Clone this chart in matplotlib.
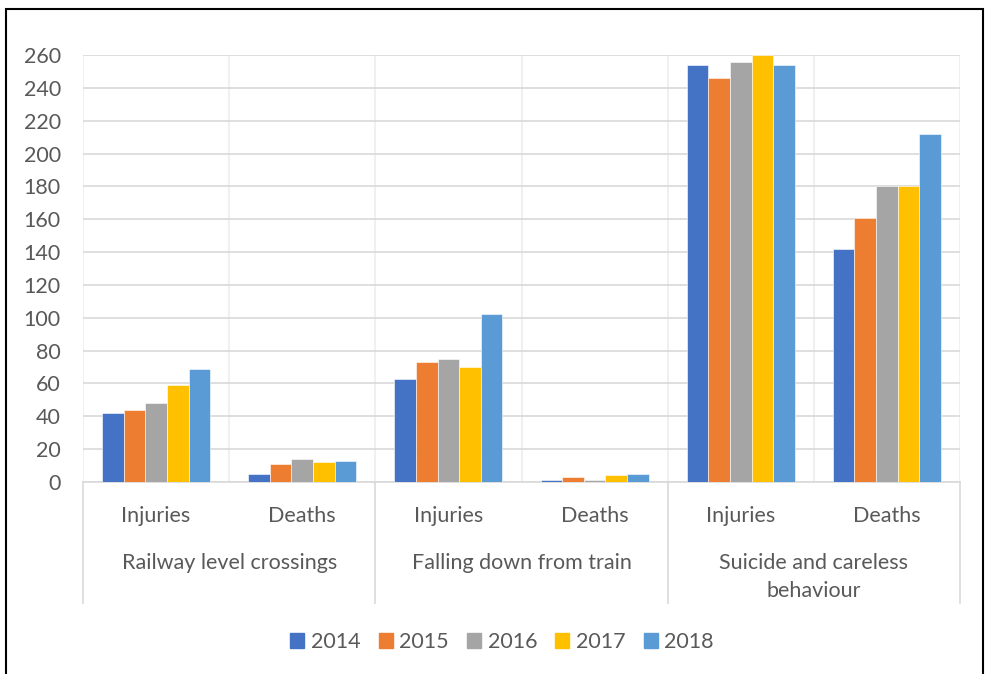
import numpy as np
import matplotlib
matplotlib.use("Agg")
from matplotlib import pyplot as plt
from matplotlib.patches import Patch, Rectangle
from matplotlib.transforms import blended_transform_factory

plt.rcParams['font.family'] = ['Lato', 'DejaVu Sans']

groups = ['Railway level crossings', 'Falling down from train',
          'Suicide and careless\nbehaviour']
kinds = ['Injuries', 'Deaths']
years = ['2014', '2015', '2016', '2017', '2018']
colors = ['#4472C4', '#ED7D31', '#A5A5A5', '#FFC000', '#5B9BD5']

# one list per year: rail inj, rail deaths, fall inj, fall deaths, suicide inj, suicide deaths
y2014 = [42, 5, 63, 1, 254, 142]
y2015 = [44, 11, 73, 3, 246, 161]
y2016 = [48, 14, 75, 1, 256, 180]
y2017 = [59, 12, 70, 4, 260, 180]
y2018 = [69, 13, 102, 5, 254, 212]
series = [y2014, y2015, y2016, y2017, y2018]

W, H = 985, 674
fig = plt.figure(figsize=(W / 100, H / 100), dpi=100)
ax = fig.add_axes([83 / W, 1 - 482 / H, (960 - 83) / W, (482 - 55) / H])

grey = '#595959'
fs = 15.5
ncat = len(groups) * len(kinds)
x = np.arange(ncat)
bw = 0.148
for i, (vals, c) in enumerate(zip(series, colors)):
    ax.bar(x + (i - 2) * bw, vals, bw, color=c, zorder=3,
           edgecolor='white', linewidth=0.4)

ax.set_xlim(-0.5, ncat - 0.5)
ax.set_ylim(0, 260)
ax.set_yticks(np.arange(0, 261, 20))
ax.tick_params(axis='y', length=0, pad=16, labelsize=fs, labelcolor=grey)
ax.set_xticks(x)
ax.set_xticklabels(kinds * len(groups))
ax.tick_params(axis='x', length=0, pad=17, labelsize=fs, labelcolor=grey)

for s in ['top', 'right', 'left']:
    ax.spines[s].set_visible(False)
ax.spines['bottom'].set_color('#d9d9d9')
ax.spines['bottom'].set_linewidth(1.2)

ax.grid(axis='y', color='#d9d9d9', linewidth=1.2, zorder=0)
for b in np.arange(-0.5, ncat, 1.0):
    ax.axvline(b, color='#f0f0f0', linewidth=1.5, zorder=0)

# group labels and separators below the axis
tr = blended_transform_factory(ax.transData, ax.transAxes)
for g, name in enumerate(groups):
    cx = 2 * g + 0.5
    ax.text(cx, -0.166, name, transform=tr, ha='center', va='top',
            fontsize=fs, color=grey, linespacing=1.5)
for b in np.arange(-0.5, ncat, 2.0):
    ax.plot([b, b], [0, -0.283], transform=tr, color='#d9d9d9',
            linewidth=1.2, clip_on=False)

handles = [Patch(color=c, label=y) for y, c in zip(years, colors)]
fig.legend(handles=handles, loc='center', bbox_to_anchor=(502 / W, 1 - 642 / H),
           ncol=5, frameon=False, fontsize=fs, labelcolor=grey,
           handlelength=0.65, handleheight=0.65, handletextpad=0.3,
           columnspacing=0.85)

fig.patches.append(Rectangle((6 / W, -0.01), 977 / W, 1 - 9 / H + 0.01,
                             transform=fig.transFigure, fill=False,
                             edgecolor='black', linewidth=1.5))

fig.savefig('out.png', dpi=100)
